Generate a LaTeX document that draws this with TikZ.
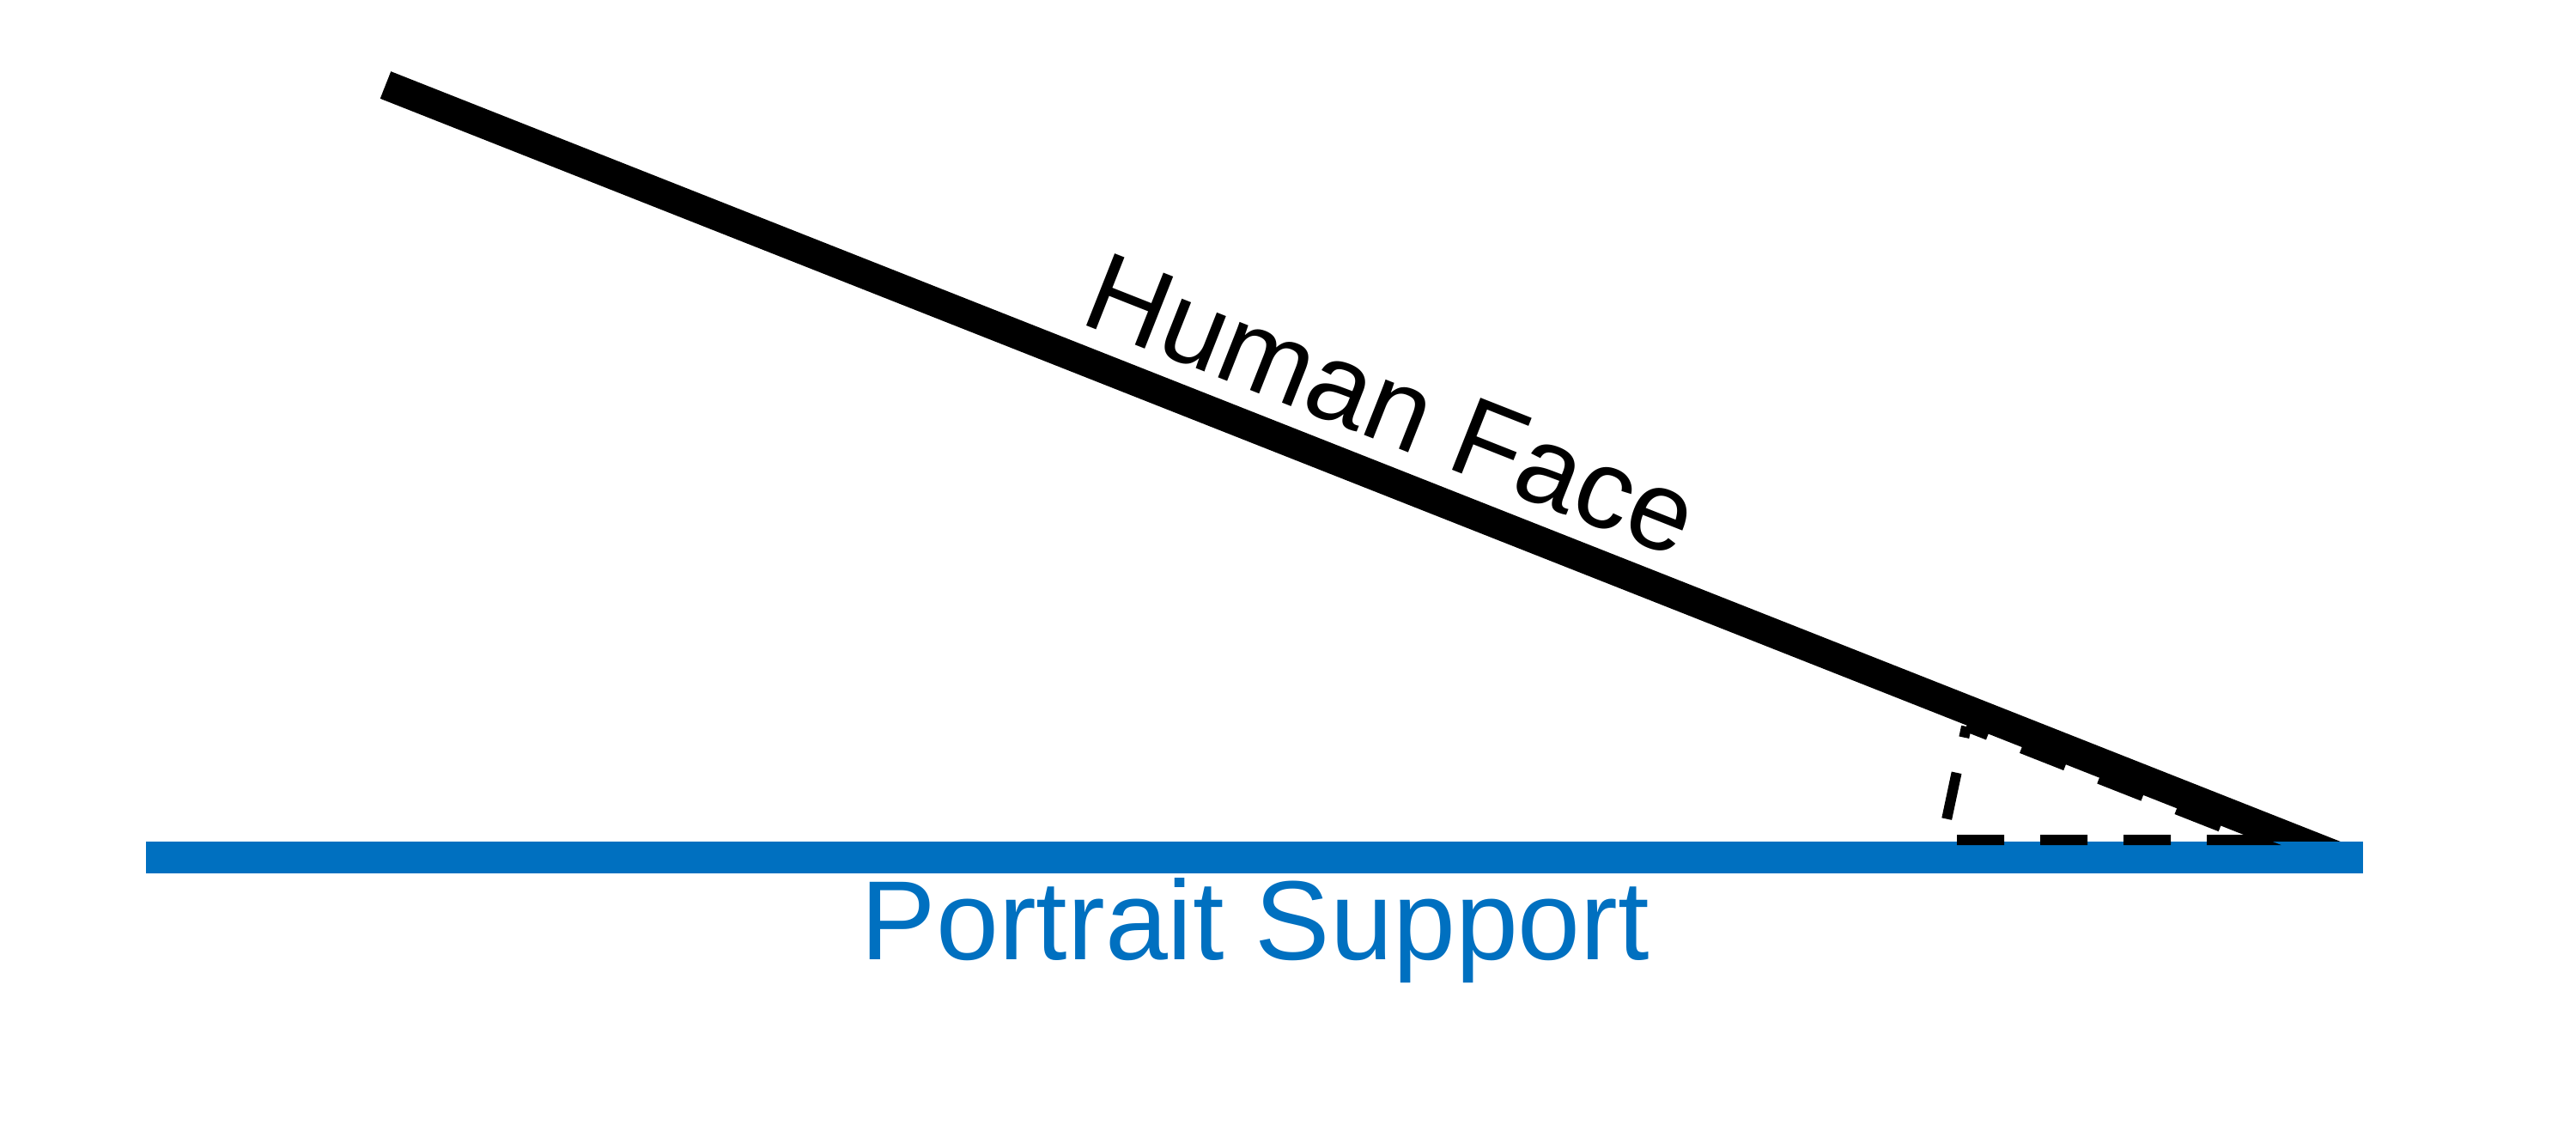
\documentclass[tikz,border=0pt]{standalone}
\usepackage{fontspec}
\setmainfont{Liberation Sans}
\usepackage{tikz}
\usetikzlibrary{calc}
\definecolor{supportblue}{HTML}{0070C0}

\begin{document}
\begin{tikzpicture}[lbl/.style={inner sep=0pt,anchor=base,font=\fontsize{37.3}{44}\selectfont},
        angmark/.style={line width=0.12cm,dash pattern=on 0.55cm off 0.42cm,dash phase=0.42cm}]
        \useasboundingbox(0,0)rectangle(30,13.16);
        \coordinate(facetop)at(4.49,12.17);
        \coordinate(apex)at(27.25,3.18);
        \coordinate(supleft)at(1.70,3.18);
        \coordinate(supright)at(27.52,3.18);
        \coordinate(angA)at(22.62,3.38);
        \coordinate(angB)at(22.90,4.70);
        \coordinate(angC)at(26.25,3.38);
        \draw[line width=0.34cm](facetop)--(apex);
        \draw[supportblue,line width=0.37cm](supleft)--(supright);
        \draw[angmark](angB)--(angA)--(angC)--cycle;
        \node[lbl,rotate=-21.55](facelbl)at(16.04,8.03){Human Face};
        \node[lbl,text=supportblue](supportlbl)at(14.62,1.99){Portrait Support};
\end{tikzpicture}
\end{document}
